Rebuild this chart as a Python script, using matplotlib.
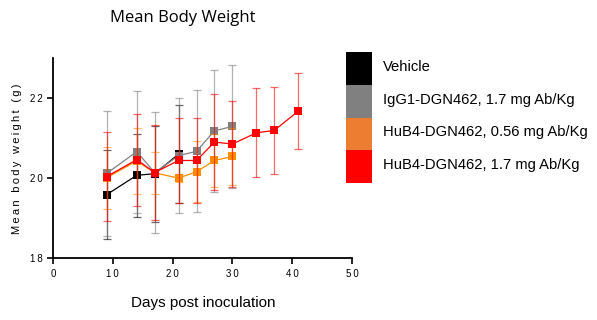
import matplotlib
matplotlib.use("Agg")
import matplotlib.pyplot as plt
from matplotlib.patches import Rectangle

plt.rcParams["font.family"] = ["Liberation Sans", "DejaVu Sans"]

TS = "\u2009"  # thin space, used to mimic the wide letter spacing

# ---- data ----
labels = [
    "Vehicle",
    "IgG1-DGN462, 1.7 mg Ab/Kg",
    "HuB4-DGN462, 0.56 mg Ab/Kg",
    "HuB4-DGN462, 1.7 mg Ab/Kg",
]
line_colors = ["#000000", "#808080", "#FF8C00", "#FF0000"]
legend_colors = ["#000000", "#808080", "#ED7D31", "#FF0000"]

vehicle_days = [9, 14, 17, 21]
vehicle_mean = [19.59, 20.07, 20.11, 20.60]
vehicle_sd = [1.10, 1.04, 1.20, 1.22]

igg1_days = [9, 14, 17, 21, 24, 27, 30]
igg1_mean = [20.12, 20.66, 20.14, 20.56, 20.67, 21.18, 21.29]
igg1_sd = [1.56, 1.52, 1.50, 1.44, 1.52, 1.52, 1.54]

hub4_low_days = [9, 14, 17, 21, 24, 27, 30]
hub4_low_mean = [20.01, 20.43, 20.13, 20.00, 20.16, 20.44, 20.54]
hub4_low_sd = [0.77, 0.82, 0.53, 0.10, 0.76, 0.65, 0.72]

hub4_high_days = [9, 14, 17, 21, 24, 27, 30, 34, 37, 41]
hub4_high_mean = [20.04, 20.46, 20.14, 20.44, 20.44, 20.90, 20.85, 21.13, 21.19, 21.67]
hub4_high_sd = [1.12, 1.15, 1.19, 1.05, 1.05, 1.20, 1.07, 1.11, 1.08, 0.95]

x_ticks = [0, 10, 20, 30, 40, 50]
y_ticks = [18, 20, 22]

series = [
    (vehicle_days, vehicle_mean, vehicle_sd),
    (igg1_days, igg1_mean, igg1_sd),
    (hub4_low_days, hub4_low_mean, hub4_low_sd),
    (hub4_high_days, hub4_high_mean, hub4_high_sd),
]

fig = plt.figure(figsize=(5.97, 3.20), dpi=100)
ax = fig.add_axes([0.0888, 0.193, 0.5008, 0.626])

# draw gray first, black last
for i in [1, 3, 2, 0]:
    days, mean, sd = series[i]
    c = line_colors[i]
    eb = ax.errorbar(days, mean, yerr=sd, color=c, ecolor=c, elinewidth=0.9,
                     capsize=3, capthick=0.9, lw=0.9, marker="s", markersize=5.5,
                     zorder=3 + i)
    eb[0].set_markeredgewidth(0)
    for part in eb[1] + eb[2]:
        part.set_alpha(0.6)

ax.set_xlim(0, 50)
ax.set_ylim(18, 23)
ax.set_xticks(x_ticks)
ax.set_xticklabels([TS.join(str(t)) for t in x_ticks])
ax.set_yticks(y_ticks)
ax.set_yticklabels([TS.join(str(t)) for t in y_ticks])
ax.tick_params(direction="out", length=4.5, width=1.2, labelsize=7, pad=3)

for s in ["top", "right"]:
    ax.spines[s].set_visible(False)
for s in ["left", "bottom"]:
    ax.spines[s].set_linewidth(1.3)

fig.text(0.306, 0.945, "Mean Body Weight", family=["Open Sans", "DejaVu Sans"],
         fontsize=12, ha="center", va="center")
fig.text(0.34, 0.053, "Days post inoculation", fontsize=11, ha="center", va="center")
fig.text(0.029, 0.505, TS.join("Mean body weight (g)"), fontsize=8,
         rotation=90, ha="center", va="center")

# legend: stacked colour blocks with labels
W, H = 597.0, 320.0
box_x, box_w, box_h, box_top = 346 / W, 26 / W, 32.75 / H, 1 - 52 / H
for k, (lab, c) in enumerate(zip(labels, legend_colors)):
    y0 = box_top - (k + 1) * box_h
    fig.patches.append(Rectangle((box_x, y0), box_w, box_h, facecolor=c,
                                 edgecolor="none", transform=fig.transFigure))
    fig.text(383 / W, y0 + box_h / 2 + 1.5 / H, lab, fontsize=10.6,
             ha="left", va="center")

fig.savefig("out.png", dpi=100)
